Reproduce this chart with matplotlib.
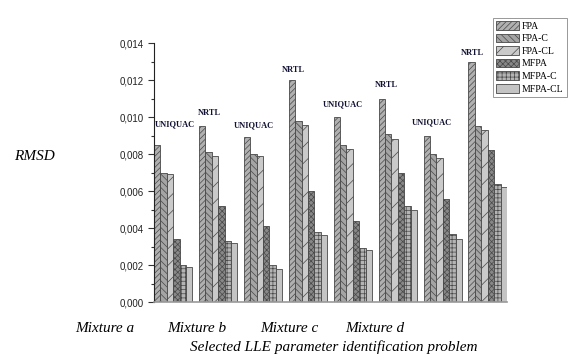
import numpy as np
import matplotlib
matplotlib.use("Agg")
import matplotlib.pyplot as plt
from matplotlib.ticker import FuncFormatter, MultipleLocator

# RMSD values, one list per algorithm, 8 problems each
groups = ["UNIQUAC", "NRTL", "UNIQUAC", "NRTL", "UNIQUAC", "NRTL", "UNIQUAC", "NRTL"]
fpa = [0.0085, 0.0095, 0.0089, 0.0120, 0.0100, 0.0110, 0.0090, 0.0130]
fpa_c = [0.0070, 0.0081, 0.0080, 0.0098, 0.0085, 0.0091, 0.0080, 0.0095]
fpa_cl = [0.0069, 0.0079, 0.0079, 0.0096, 0.0083, 0.0088, 0.0078, 0.0093]
mfpa = [0.0034, 0.0052, 0.0041, 0.0060, 0.0044, 0.0070, 0.0056, 0.0082]
mfpa_c = [0.0020, 0.0033, 0.0020, 0.0038, 0.0029, 0.0052, 0.0037, 0.0064]
mfpa_cl = [0.0019, 0.0032, 0.0018, 0.0036, 0.0028, 0.0050, 0.0034, 0.0062]
series_names = ["FPA", "FPA-C", "FPA-CL", "MFPA", "MFPA-C", "MFPA-CL"]
mixtures = ["Mixture a", "Mixture b", "Mixture c", "Mixture d"]

series = [fpa, fpa_c, fpa_cl, mfpa, mfpa_c, mfpa_cl]
faces = ["#b0b0b0", "#a4a4a4", "#cacaca", "#888888", "#b4b4b4", "#c4c4c4"]
hatches = ["//////", "\\\\\\\\\\", "//", "xxxxxx", "++++", ""]

# label centre, measured from the left edge of each group (fraction of a group step)
label_off = [0.47, 0.23, 0.22, 0.11, 0.20, 0.17, 0.18, 0.09]
label_y = [0.00960, 0.01025, 0.00955, 0.01255, 0.01070, 0.01175, 0.00970, 0.01345]

plt.rcParams["hatch.linewidth"] = 0.5

fig = plt.figure(figsize=(5.8, 3.6), dpi=100)
ax = fig.add_axes([0.2655, 0.161, 0.6085, 0.719])

w = 1 / 7
x = np.arange(len(groups))
for j, vals in enumerate(series):
    ax.bar(x + j * w, vals, width=w, color=faces[j], edgecolor="#484848",
           linewidth=0.6, hatch=hatches[j], label=series_names[j])

for i, name in enumerate(groups):
    ax.text(x[i] - w / 2 + label_off[i], label_y[i], name,
            ha="center", va="center", fontsize=6, fontweight="bold",
            family="Liberation Serif", color="#111133")

ax.set_xlim(-w / 2, x[-1] + 5.5 * w)
ax.set_ylim(0, 0.014)
ax.yaxis.set_major_locator(MultipleLocator(0.002))
ax.yaxis.set_minor_locator(MultipleLocator(0.001))
ax.yaxis.set_major_formatter(FuncFormatter(lambda v, p: f"{v:.3f}".replace(".", ",")))
ax.tick_params(axis="y", which="major", length=4, width=0.8, labelsize=7,
               direction="out", colors="#333333", labelcolor="#222222")
ax.tick_params(axis="y", which="minor", length=2, width=0.8, direction="out",
               colors="#333333")
for t in ax.get_yticklabels():
    t.set_family("Liberation Sans")
ax.set_xticks([])
ax.spines["top"].set_visible(False)
ax.spines["right"].set_visible(False)
ax.spines["left"].set_color("#222222")
ax.spines["bottom"].set_color("#999999")
ax.spines["bottom"].set_linewidth(1.2)

fig.text(34 / 580, 1 - 156 / 360, "RMSD", fontsize=11, style="italic",
         family="Liberation Serif", ha="center", va="center")
mix_x = [105, 197, 289, 375]
for mx, m in zip(mix_x, mixtures):
    fig.text(mx / 580, 1 - 328 / 360, m, fontsize=11, style="italic",
             family="Liberation Serif", ha="center", va="center")
fig.text(334 / 580, 1 - 347 / 360, "Selected LLE parameter identification problem",
         fontsize=11, style="italic", family="Liberation Serif",
         ha="center", va="center")

leg = fig.legend(loc="upper left", bbox_to_anchor=(493 / 580, 1 - 18 / 360),
                 prop={"family": "Liberation Serif", "size": 7},
                 fancybox=False, framealpha=1, edgecolor="#888888",
                 handlelength=2.4, handleheight=1.0, handletextpad=0.3,
                 labelspacing=0.3, borderpad=0.3, borderaxespad=0)
leg.get_frame().set_linewidth(0.6)

fig.savefig("out.png", dpi=100)
